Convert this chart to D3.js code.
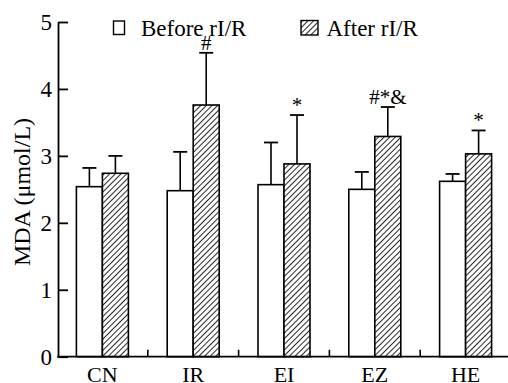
<!DOCTYPE html>
<html><head><meta charset="utf-8">
<script src="https://cdn.jsdelivr.net/npm/d3@7"></script>
<style>
html,body{margin:0;padding:0;background:#fff;}
svg{display:block;font-family:"Liberation Serif","Times New Roman",serif;}
</style></head>
<body>
<svg id="chart" width="508" height="383"></svg>
<script>
const categories = ["CN","IR","EI","EZ","HE"];
const seriesNames = ["Before rI/R","After rI/R"];
const beforeMean = [2.54, 2.48, 2.57, 2.50, 2.62];
const beforeErr  = [0.28, 0.58, 0.63, 0.26, 0.11];
const afterMean  = [2.74, 3.76, 2.88, 3.29, 3.03];
const afterErr   = [0.26, 0.78, 0.73, 0.44, 0.35];
const afterMarks = ["", "#", "*", "#*&", "*"];
const yTicks = [0,1,2,3,4,5];

const svg = d3.select("#chart");
const defs = svg.append("defs");
const pat = defs.append("pattern").attr("id","hatch").attr("patternUnits","userSpaceOnUse")
  .attr("width",4).attr("height",4).attr("patternTransform","rotate(45)");
pat.append("rect").attr("width",4).attr("height",4).attr("fill","#fff");
pat.append("line").attr("x1",0).attr("y1",0).attr("x2",0).attr("y2",4)
  .attr("stroke","#000").attr("stroke-width",1.7);

const y = d3.scaleLinear().domain([0,5]).range([356.7,22]);
const x0 = d3.scaleBand().domain(categories).range([57,511]).padding(0);
const x1 = d3.scaleBand().domain([0,1]).range([0,x0.bandwidth()]).paddingInner(0).paddingOuter(0.746);

const data = categories.map((c,i)=>[
  {c, s:0, m:beforeMean[i], e:beforeErr[i], mark:""},
  {c, s:1, m:afterMean[i], e:afterErr[i], mark:afterMarks[i]}
]).flat();

const g = svg.append("g");
// error bars
data.forEach(d=>{
  const cx = x0(d.c)+x1(d.s)+x1.bandwidth()/2;
  g.append("line").attr("x1",cx).attr("x2",cx).attr("y1",y(d.m)).attr("y2",y(d.m+d.e))
    .attr("stroke","#000").attr("stroke-width",1.6);
  g.append("line").attr("x1",cx-7).attr("x2",cx+7).attr("y1",y(d.m+d.e)).attr("y2",y(d.m+d.e))
    .attr("stroke","#000").attr("stroke-width",1.8);
  if(d.mark){
    g.append("text").attr("x",cx).attr("y",y(d.m+d.e)-3).attr("text-anchor","middle")
      .attr("font-size",21).text(d.mark);
  }
});
// bars
g.selectAll("rect.bar").data(data).join("rect").attr("class","bar")
  .attr("x",d=>x0(d.c)+x1(d.s)).attr("width",x1.bandwidth())
  .attr("y",d=>y(d.m)).attr("height",d=>y(0)-y(d.m))
  .attr("fill",d=>d.s===0?"#fff":"url(#hatch)")
  .attr("stroke","#000").attr("stroke-width",1.6);

// y axis
const yAxis = d3.axisLeft(y).tickValues(yTicks).tickFormat(d3.format("d"))
  .tickSizeInner(-10).tickSizeOuter(0).tickPadding(6);
const ya = svg.append("g").attr("transform","translate(58,0)").call(yAxis);
ya.selectAll("path,line").attr("stroke","#000").attr("stroke-width",1.8);
ya.selectAll("text").attr("font-size",23).attr("font-family","Liberation Serif").attr("fill","#000");

// x axis
const xAxis = d3.axisBottom(x0).tickSize(0).tickPadding(10);
const xa = svg.append("g").attr("transform",`translate(0,${y(0)})`).call(xAxis);
xa.select(".domain").remove();
xa.selectAll("text").attr("font-size",22).attr("font-family","Liberation Serif").attr("fill","#000");
svg.append("line").attr("x1",57).attr("x2",508).attr("y1",y(0)).attr("y2",y(0))
  .attr("stroke","#000").attr("stroke-width",1.8);
categories.slice(0,-1).forEach(c=>{
  const xx = x0(c)+x0.bandwidth();
  svg.append("line").attr("x1",xx).attr("x2",xx).attr("y1",y(0)).attr("y2",y(0)-7)
    .attr("stroke","#000").attr("stroke-width",1.6);
});

// y label
svg.append("text").attr("transform","translate(30,192) rotate(-90)")
  .attr("text-anchor","middle").attr("font-size",24).text("MDA (μmol/L)");

// legend
svg.append("rect").attr("x",113.5).attr("y",21).attr("width",11).attr("height",13.5)
  .attr("fill","#fff").attr("stroke","#000").attr("stroke-width",1.4);
svg.append("text").attr("x",141).attr("y",35.5).attr("font-size",23).text(seriesNames[0]);
svg.append("rect").attr("x",301).attr("y",20.5).attr("width",17).attr("height",14.5)
  .attr("fill","url(#hatch)").attr("stroke","#000").attr("stroke-width",1.4);
svg.append("text").attr("x",326.5).attr("y",35.5).attr("font-size",23).text(seriesNames[1]);
</script>
</body></html>
